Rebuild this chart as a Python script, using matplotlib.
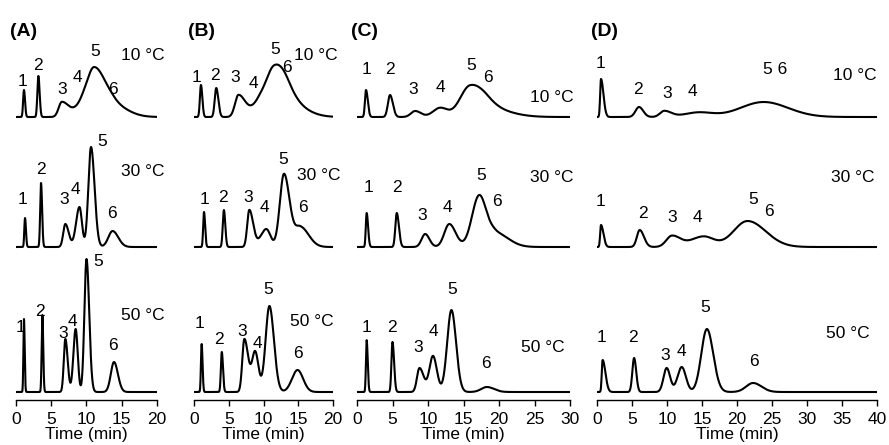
import numpy as np
import matplotlib
matplotlib.use("Agg")
import matplotlib.pyplot as plt

plt.rcParams["font.family"] = ["Liberation Sans", "DejaVu Sans"]

# peak tables:
# (retention time [min], height [a.u.], left width, right width [min])
peaks_A10 = [(1.13, 27, 0.12, 0.15), (3.17, 41, 0.14, 0.18), (6.5, 15, 0.45, 1.0),
             (9.2, 8, 1.0, 0.8), (11.1, 49, 1.1, 1.6), (14.0, 10, 1.2, 2.0)]
peaks_A30 = [(1.28, 29, 0.1, 0.13), (3.55, 64, 0.12, 0.15), (7.0, 23, 0.3, 0.48),
             (9.0, 40, 0.48, 0.35), (10.64, 100, 0.38, 0.5), (13.7, 16, 0.6, 0.8)]
peaks_A50 = [(1.13, 73, 0.08, 0.1), (3.74, 77, 0.1, 0.12), (7.0, 53, 0.22, 0.33),
             (8.46, 63, 0.32, 0.3), (10.0, 133, 0.3, 0.38), (13.9, 30, 0.45, 0.55)]

peaks_B10 = [(1.0, 32, 0.15, 0.2), (3.2, 29, 0.22, 0.3), (6.4, 22, 0.5, 1.0),
             (9.2, 9, 1.0, 0.8), (11.5, 48, 1.3, 1.7), (13.5, 14, 1.2, 2.4)]
peaks_B30 = [(1.44, 35, 0.12, 0.16), (4.3, 37, 0.16, 0.2), (7.96, 37, 0.3, 0.55),
             (10.4, 18, 0.8, 0.6), (12.95, 73, 0.6, 0.8), (15.3, 20, 0.8, 1.2)]
peaks_B50 = [(1.1, 48, 0.1, 0.13), (4.0, 40, 0.13, 0.17), (7.25, 53, 0.3, 0.55),
             (8.8, 40, 0.45, 0.48), (10.85, 86, 0.55, 0.65), (14.9, 22, 0.8, 0.8)]

peaks_C10 = [(1.27, 27, 0.15, 0.25), (4.65, 22, 0.3, 0.4), (8.2, 6, 0.6, 0.8),
             (11.7, 9, 1.0, 1.0), (15.9, 30, 1.4, 2.0), (18.5, 8, 1.5, 3.0)]
peaks_C30 = [(1.36, 34, 0.12, 0.2), (5.6, 34, 0.2, 0.3), (9.6, 13, 0.5, 0.6),
             (13.0, 23, 0.7, 0.9), (17.2, 51, 1.0, 1.0), (19.5, 14, 1.0, 1.8)]
peaks_C50 = [(1.36, 52, 0.1, 0.15), (5.0, 50, 0.15, 0.22), (8.8, 24, 0.35, 0.6),
             (10.7, 36, 0.5, 0.55), (13.3, 82, 0.6, 0.65), (18.3, 5, 0.8, 1.0)]

peaks_D10 = [(0.57, 38, 0.12, 0.35), (6.0, 10, 0.5, 0.6), (9.6, 6, 0.6, 1.0),
             (14.5, 4.5, 2.0, 2.0), (23.8, 15, 3.3, 3.5)]
peaks_D30 = [(0.57, 22, 0.12, 0.35), (6.1, 17, 0.4, 0.6), (10.7, 11, 0.8, 1.2),
             (15.2, 10.5, 1.8, 1.5), (21.5, 26, 2.0, 2.6)]
peaks_D50 = [(0.8, 32, 0.12, 0.4), (5.3, 34, 0.25, 0.3), (9.95, 24, 0.45, 0.5),
             (12.1, 25, 0.6, 0.6), (15.7, 63, 0.8, 0.9), (22.3, 9, 1.0, 1.2)]

# peak numbers / temperature labels: (text, time, height above trace baseline)
lab_A10 = [("1", 0.99, 35), ("2", 3.12, 52), ("3", 6.52, 27), ("4", 8.65, 40),
           ("5", 11.2, 65), ("6", 13.76, 28), ("10 °C", 18.0, 62)]
lab_A30 = [("1", 0.99, 47), ("2", 3.55, 77), ("3", 6.8, 48), ("4", 8.37, 58),
           ("5", 12.2, 105), ("6", 13.6, 34), ("30 °C", 18.0, 75)]
lab_A50 = [("1", 0.7, 65), ("2", 3.4, 80), ("3", 6.67, 59), ("4", 7.94, 70),
           ("5", 11.6, 130), ("6", 13.76, 47), ("50 °C", 18.0, 77)]

lab_B10 = [("1", 0.43, 39), ("2", 3.0, 42), ("3", 5.9, 39), ("4", 8.5, 34),
           ("5", 11.65, 67), ("6", 13.4, 50), ("10 °C", 17.55, 62)]
lab_B30 = [("1", 1.44, 47), ("2", 4.17, 49), ("3", 7.77, 49), ("4", 10.2, 39),
           ("5", 12.8, 87), ("6", 15.7, 39), ("30 °C", 18.0, 72)]
lab_B50 = [("1", 0.86, 68), ("2", 3.6, 52), ("3", 6.9, 60), ("4", 9.06, 48),
           ("5", 10.65, 103), ("6", 14.96, 38), ("50 °C", 16.9, 70)]

lab_C10 = [("1", 1.27, 47), ("2", 4.65, 47), ("3", 7.9, 27), ("4", 11.8, 29),
           ("5", 16.06, 52), ("6", 18.45, 39), ("10 °C", 27.4, 19)]
lab_C30 = [("1", 1.55, 59), ("2", 5.63, 59), ("3", 9.15, 31), ("4", 12.8, 40),
           ("5", 17.5, 72), ("6", 19.7, 45), ("30 °C", 27.4, 70)]
lab_C50 = [("1", 1.4, 64), ("2", 4.9, 64), ("3", 8.6, 45), ("4", 10.7, 60),
           ("5", 13.4, 102), ("6", 18.2, 29), ("50 °C", 26.2, 44)]

lab_D10 = [("1", 0.57, 53), ("2", 5.86, 28), ("3", 10.0, 24), ("4", 13.6, 25),
           ("5 6", 25.4, 48), ("10 °C", 36.9, 42)]
lab_D30 = [("1", 0.43, 45), ("2", 6.57, 34), ("3", 10.7, 29), ("4", 14.3, 30),
           ("5", 22.3, 48), ("6", 24.6, 36), ("30 °C", 36.6, 69)]
lab_D50 = [("1", 0.71, 55), ("2", 5.14, 55), ("3", 9.7, 37), ("4", 12.0, 40),
           ("5", 15.4, 85), ("6", 22.4, 30), ("50 °C", 35.9, 59)]

panel_names = ["(A)", "(B)", "(C)", "(D)"]
panel_tmax = [20, 20, 30, 40]
panel_peaks = [[peaks_A10, peaks_A30, peaks_A50], [peaks_B10, peaks_B30, peaks_B50],
               [peaks_C10, peaks_C30, peaks_C50], [peaks_D10, peaks_D30, peaks_D50]]
panel_labels = [[lab_A10, lab_A30, lab_A50], [lab_B10, lab_B30, lab_B50],
                [lab_C10, lab_C30, lab_C50], [lab_D10, lab_D30, lab_D50]]


def trace(t, peaks):
    y = np.zeros_like(t)
    for rt, h, wl, wr in peaks:
        w = np.where(t < rt, wl, wr)
        y += h * np.exp(-0.5 * ((t - rt) / w) ** 2)
    return y


W, H = 889, 445
fig = plt.figure(figsize=(W / 100, H / 100), dpi=100)

# layout (pixels): left edge / width of each time axis
ax_left = [16, 194, 357, 597]
ax_width = [141, 139, 213, 280]
offsets = [283, 153, 8]  # stacking of 10, 30, 50 C traces
bottom_px, top_px = 400, 15

for i in range(4):
    ax = fig.add_axes([ax_left[i] / W, (H - bottom_px) / H,
                       ax_width[i] / W, (bottom_px - top_px) / H])
    tmax = panel_tmax[i]
    t = np.linspace(0, tmax, 1200)
    for k in range(3):
        y = trace(t, panel_peaks[i][k]) + offsets[k]
        ax.plot(t, y, color="black", lw=1.5)
        for txt, tx, ty in panel_labels[i][k]:
            ax.text(tx, ty + offsets[k], txt, ha="center", va="center", fontsize=12.5)
    ax.set_xlim(0, tmax)
    ax.set_ylim(0, bottom_px - top_px)
    ax.set_xticks(np.arange(0, tmax + 1, 5))
    ax.tick_params(axis="x", direction="out", length=4.5, width=1, labelsize=12.5, pad=4.5)
    ax.set_yticks([])
    for s in ["left", "right", "top"]:
        ax.spines[s].set_visible(False)
    ax.spines["bottom"].set_linewidth(1)
    ax.set_xlabel("Time (min)", fontsize=12.5, labelpad=0)
    ax.patch.set_visible(False)
    fig.text((ax_left[i] - 6) / W, 1 - 31 / H, panel_names[i], ha="left", va="center",
             fontsize=14, fontweight="bold")

plt.savefig("out.png", dpi=100)
